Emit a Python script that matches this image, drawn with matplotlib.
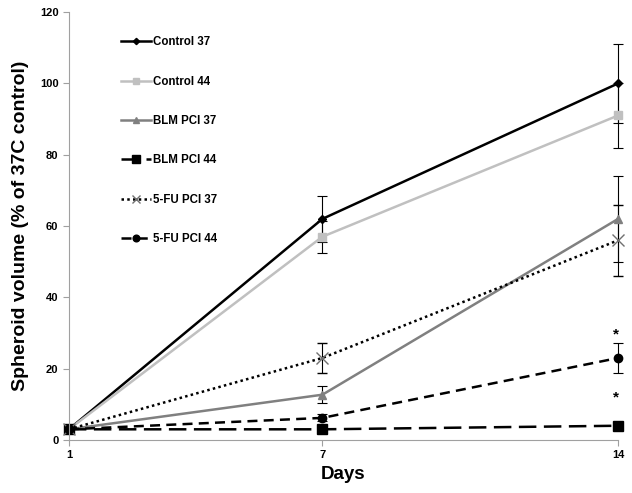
import matplotlib
matplotlib.use("Agg")
import matplotlib.pyplot as plt
from matplotlib.lines import Line2D

plt.rcParams["font.family"] = ["Liberation Sans", "DejaVu Sans"]
plt.rcParams["font.weight"] = "bold"

days = [1, 7, 14]

control_37 = [3, 62, 100]
control_37_err = [0, 6.5, 11]
control_44 = [3, 57, 91]
control_44_err = [0, 4.5, 9]
blm_37 = [3, 12.7, 62]
blm_37_err = [0, 2.4, 12]
blm_44 = [3, 3, 4]
blm_44_err = [0, 0.5, 0.5]
fu_37 = [3, 23, 56]
fu_37_err = [0, 4.2, 10]
fu_44 = [3, 6.2, 23]
fu_44_err = [0, 1, 4.2]

star_days = [14, 14]
star_vals = [29.5, 12]

fig = plt.figure(figsize=(6.32, 4.93), dpi=100)
ax = fig.add_axes([0.109, 0.1075, 0.869, 0.868])

series = [
    ("Control 37", control_37, control_37_err, dict(color="black", ls="-", marker="D", ms=4, mfc="black", mec="black")),
    ("Control 44", control_44, control_44_err, dict(color="#c0c0c0", ls="-", marker="s", ms=6, mfc="#c0c0c0", mec="#c0c0c0")),
    ("BLM PCI 37", blm_37, blm_37_err, dict(color="#808080", ls="-", marker="^", ms=6, mfc="#808080", mec="#808080")),
    ("BLM PCI 44", blm_44, blm_44_err, dict(color="black", ls=(0, (7, 3)), marker="s", ms=7, mfc="black", mec="black")),
    ("5-FU PCI 37", fu_37, fu_37_err, dict(color="black", ls=(0, (1, 1.3)), marker="x", ms=8, mec="#707070", mew=1.0)),
    ("5-FU PCI 44", fu_44, fu_44_err, dict(color="black", ls=(0, (4, 2.5)), marker="o", ms=6, mfc="black", mec="black")),
]

handles = []
for label, vals, err, style in series:
    eb = ax.errorbar(days, vals, yerr=err, lw=1.8, ecolor="black", elinewidth=0.8,
                     capsize=3.5, capthick=0.8, **style)
    eb.lines[0].set_clip_on(False)
    for art in list(eb.lines[1]) + list(eb.lines[2]):
        art.set_clip_on(False)
    hstyle = dict(style)
    hstyle["ms"] = style["ms"] * 0.8
    handles.append(Line2D([], [], lw=1.8, label=label, **hstyle))

for x, y in zip(star_days, star_vals):
    ax.text(x - 0.05, y, "*", ha="center", va="center", fontsize=11, fontweight="bold")

ax.set_xlim(1, 14)
ax.set_ylim(0, 120)
ax.set_xticks(days)
ax.set_yticks(range(0, 121, 20))
ax.set_xlabel("Days", fontsize=13.5, fontweight="bold", labelpad=4)
ax.set_ylabel("Spheroid volume (% of 37C control)", fontsize=14, fontweight="bold", labelpad=8)

for side in ["top", "right"]:
    ax.spines[side].set_visible(False)
for side in ["left", "bottom"]:
    ax.spines[side].set_color("#a0a0a0")
ax.tick_params(axis="both", colors="#a0a0a0", labelcolor="black", labelsize=8, length=4, direction="out")
for lab in ax.get_xticklabels() + ax.get_yticklabels():
    lab.set_fontweight("bold")

leg = ax.legend(handles=handles, loc="upper left", bbox_to_anchor=(0.076, 0.968), frameon=False,
                fontsize=8.3, labelspacing=2.38, handlelength=2.6, handletextpad=0.2,
                numpoints=1)
for t in leg.get_texts():
    t.set_fontweight("bold")

fig.savefig("out.png", dpi=100)
